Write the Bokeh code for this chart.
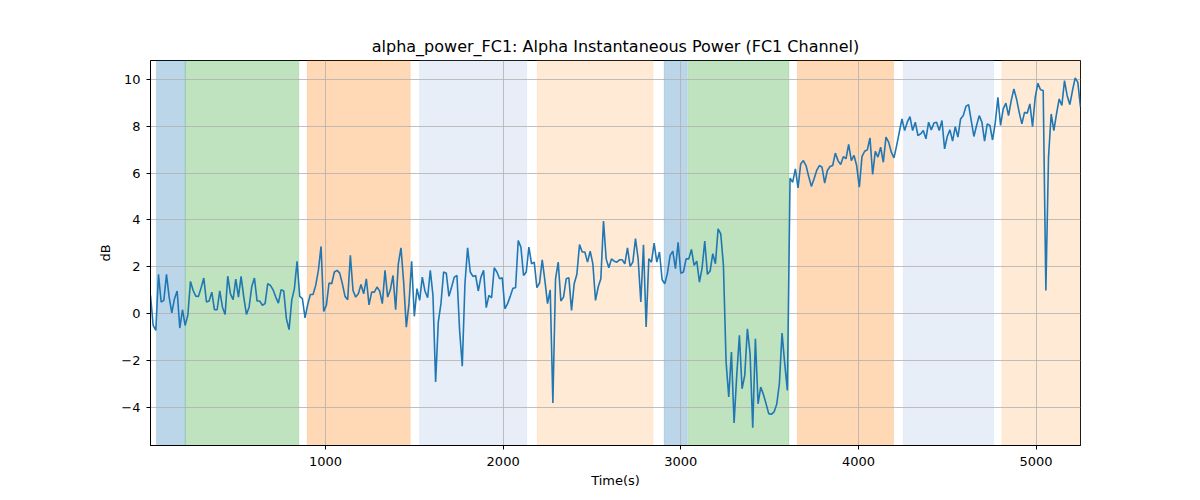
from bokeh.plotting import figure
from bokeh.models import Range1d, FixedTicker
from bokeh.embed import file_html
from bokeh.resources import INLINE

# ---- data ----
seg1 = [0.78,-0.5,-0.71,1.68,0.5,0.57,1.68,0.71,0.04,0.64,0.97,-0.61,0.17,-0.5,-0.07,1.38,0.99,0.75,0.74,1.11,1.52,0.5,0.54,0.92,0.17,0.17,0.97,0.28,-0.03,1.6,0.85,0.6,1.48,0.71,1.59,0.71,-0.03,0.28,1.16,1.52,0.54,0.54,0.36,0.43,1.28,1.21,1.02,0.71,0.45,1.02,0.97,-0.21,-0.68,0.57,1.07,2.24,0.74,0.64,-0.18,0.4,0.82,0.82,1.21,1.85,2.87,0.1,0.36,1.31,1.28,1.78,1.85,1.73]
seg2 = [1.28,0.74,0.60,2.49,0.99,0.71,0.85,1.25,0.85,1.49,0.38,0.92,0.92,1.14,0.97,0.43,1.85,0.71,1.02,1.63,0.17,2.13,2.81,1.35,-0.57,0.43,2.24,-0.11,1.07,0.57,1.56,0.97,0.68,1.85,0.78,-2.91,-0.36,0.43,1.78,1.73,0.74,1.14,1.56,1.63,-0.71,-2.24,1.28,2.81,1.78,1.59,1.63,0.97,1.56,1.85,0.26,0.78,0.68,1.96,1.78,1.49,1.53,0.21,0.43,0.74,1.09,1.11,3.12,2.84,1.63,1.78,2.84]
seg3 = [2.13,2.20,1.11,1.31,2.30,1.42,0.43,1.02,-3.81,1.49,2.20,0.54,0.71,1.49,1.53,0.14,1.28,1.68,2.95,2.63,2.63,2.20,2.67,2.13,0.57,1.14,1.49,3.95,2.34,1.96,2.34,2.24,2.20,2.30,2.30,2.13,2.81,2.02,2.20,3.20,2.34,0.50,2.94,-0.57,2.34,2.20,3.01,2.20,2.63,1.45,1.28,1.73,2.49,2.67,1.92,3.05,1.73,1.78,2.34,2.34,2.74,2.06,2.24,1.35,1.96,3.10,1.68,1.82,2.56,2.13,3.62]
seg4 = [3.41,2.06,-2.06,-3.55,-1.63,-4.66,-2.63,-0.92,-3.20,-2.63,-0.64,-1.70,-4.86,-1.07,-3.84,-3.13,-3.44,-3.84,-4.26,-4.29,-4.19,-3.86,-2.98,-0.82,-2.13,-3.27,5.78,5.61,6.18,5.37,6.39,6.53,6.32,5.85,5.43,5.75,6.11,6.32,6.25,5.57,6.11,6.28,6.32,6.85,6.53,6.36,6.70,6.61,7.22,6.53,6.75,6.32,5.40,6.70,6.93,6.99,7.50,5.94,6.93,6.68,7.10,6.46,7.53,7.32,6.89,6.65,7.17,7.74,8.31,7.81,8.17,8.41]
seg5 = [7.81,8.17,7.60,7.67,7.81,7.46,8.17,7.84,8.13,8.17,7.81,8.24,7.03,7.56,7.84,7.36,7.98,7.53,8.31,8.45,8.84,8.92,8.24,7.56,8.03,8.45,8.17,7.36,8.10,8.03,7.41,8.13,9.23,8.03,8.74,8.98,8.45,9.09,9.59,9.16,8.59,8.10,8.59,8.55,8.95,7.98,9.23,9.83,9.55,9.52,0.99,6.68,8.52,7.81,8.52,9.16,8.88,9.94,9.30,8.92,9.52,10.06,9.87,8.81]
alpha_db = seg1 + seg2 + seg3 + seg4 + seg5
sample_step = 15  # seconds between samples
times = [sample_step * (i + 1) for i in range(len(alpha_db))]

span_start = [48, 211, 897, 1529, 2191, 2906, 3042, 3656, 4252, 4807]
span_end = [211, 850, 1477, 2133, 2844, 3037, 3609, 4198, 4762, 5250]
span_color = ["#1f77b4", "#2ca02c", "#ff7f0e", "#aec7e8", "#ffbb78",
              "#1f77b4", "#2ca02c", "#ff7f0e", "#aec7e8", "#ffbb78"]

x_ticks = [1000, 2000, 3000, 4000, 5000]
y_ticks = [-4, -2, 0, 2, 4, 6, 8, 10]

FONT = "DejaVu Sans"

p = figure(
    output_backend="svg", toolbar_location=None,
    frame_width=930, frame_height=385,
    min_border_left=150, min_border_right=104,
    min_border_top=60, min_border_bottom=39,
    x_range=Range1d(times[0], times[-1]),
    y_range=Range1d(-5.62, 10.80),
    title="alpha_power_FC1: Alpha Instantaneous Power (FC1 Channel)",
)
p.background_fill_color = "white"
p.border_fill_color = "white"

# shaded spans (under the grid)
r = p.quad(left=span_start, right=span_end, bottom=-100, top=100,
           fill_color=span_color, fill_alpha=0.3,
           line_color=span_color, line_alpha=0.15, line_width=1)
r.level = "image"

p.line(times, alpha_db, line_color="#1f77b4", line_width=1.6)

# title
p.title.align = "center"
p.title.text_font = FONT
p.title.text_font_size = "16px"
p.title.text_font_style = "normal"
p.title.text_color = "black"

# grid
for g in (p.xgrid, p.ygrid):
    g.grid_line_color = "#b0b0b0"
    g.grid_line_width = 0.8

p.xaxis.ticker = FixedTicker(ticks=x_ticks)
p.yaxis.ticker = FixedTicker(ticks=y_ticks)

for ax in (p.xaxis, p.yaxis):
    ax.axis_line_color = "black"
    ax.axis_line_width = 1
    ax.major_tick_line_color = "black"
    ax.major_tick_in = 0
    ax.major_tick_out = 4
    ax.minor_tick_line_color = None
    ax.major_label_text_font = FONT
    ax.major_label_text_font_size = "13px"
    ax.major_label_text_color = "black"
    ax.axis_label_text_font = FONT
    ax.axis_label_text_font_size = "13px"
    ax.axis_label_text_font_style = "normal"
    ax.axis_label_text_color = "black"

p.xaxis.axis_label = "Time(s)"
p.yaxis.axis_label = "dB"
p.xaxis.major_label_standoff = 7
p.yaxis.major_label_standoff = 6
p.xaxis.axis_label_standoff = 4
p.yaxis.axis_label_standoff = 5

p.outline_line_color = "black"
p.outline_line_width = 1
p.outline_line_alpha = 1

open("out.html", "w").write(file_html(p, INLINE))
